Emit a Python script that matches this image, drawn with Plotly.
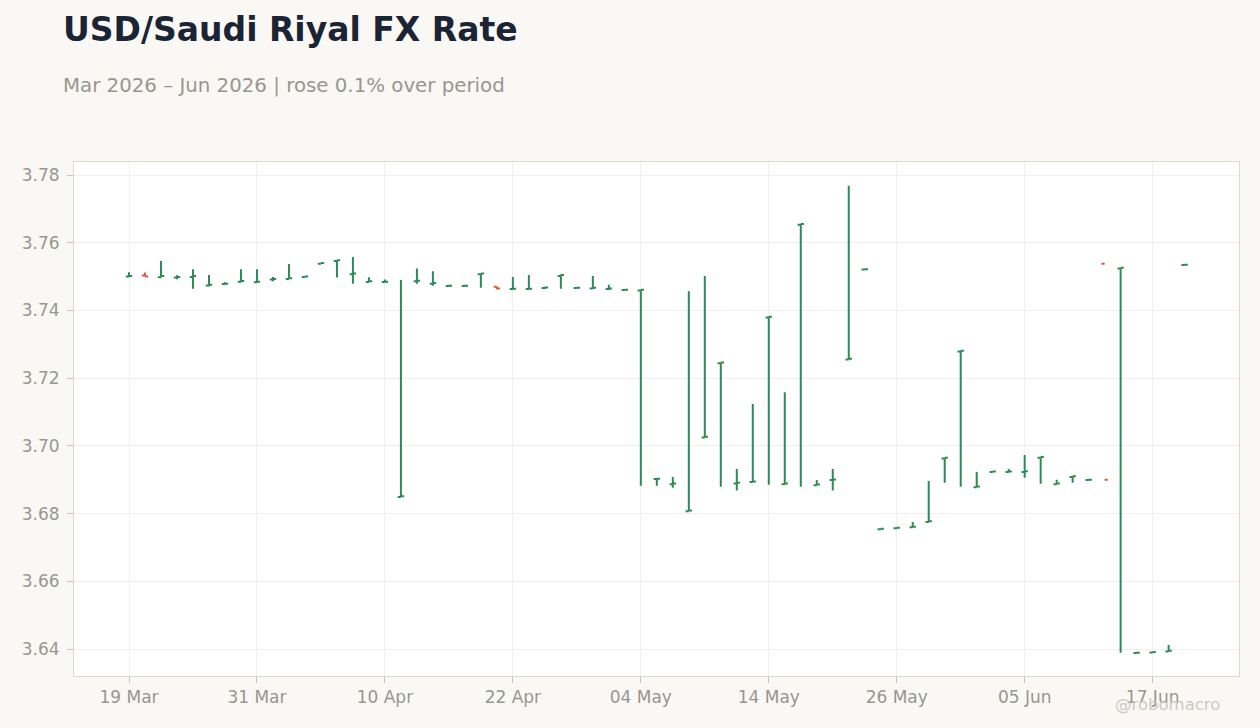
import pandas as pd
import plotly.graph_objects as go

# business days, 19 Mar 2026 -> 19 Jun 2026
dates = [d.strftime("%Y-%m-%d") for d in pd.bdate_range("2026-03-19", "2026-06-19")]

opens = [3.7500, 3.7503, 3.7498, 3.7497, 3.7499, 3.7474, 3.7478, 3.7485, 3.7483, 3.7491,
         3.7493, 3.7499, 3.7538, 3.7546, 3.7507, 3.7484, 3.7484, 3.6849, 3.7486, 3.7479,
         3.7472, 3.7472, 3.7507, 3.7470, 3.7463, 3.7463, 3.7466, 3.7502, 3.7466, 3.7465,
         3.7463, 3.7460, 3.7459, 3.6902, 3.6887, 3.6807, 3.7025, 3.7244, 3.6889, 3.6893,
         3.7379, 3.6887, 3.7653, 3.6884, 3.6899, 3.7255, 3.7521, 3.6754, 3.6757, 3.6760,
         3.6775, 3.6963, 3.7279, 3.6878, 3.6923, 3.6923, 3.6923, 3.6965, 3.6887, 3.6908,
         3.6899, 3.7538, 3.7524, 3.6388, 3.6390, 3.6393, 3.7534]
highs = [3.7513, 3.7512, 3.7546, 3.7504, 3.7522, 3.7505, 3.7483, 3.7522, 3.7522, 3.7499,
         3.7537, 3.7501, 3.7541, 3.7549, 3.7558, 3.7498, 3.7491, 3.7490, 3.7524, 3.7516,
         3.7476, 3.7476, 3.7510, 3.7471, 3.7499, 3.7505, 3.7470, 3.7506, 3.7468, 3.7502,
         3.7476, 3.7461, 3.7462, 3.6904, 3.6908, 3.7457, 3.7502, 3.7247, 3.6932, 3.7124,
         3.7382, 3.7158, 3.7656, 3.6899, 3.6932, 3.7768, 3.7523, 3.6756, 3.6759, 3.6775,
         3.6896, 3.6966, 3.7282, 3.6923, 3.6925, 3.6932, 3.6973, 3.6968, 3.6900, 3.6911,
         3.6901, 3.6900, 3.7527, 3.6390, 3.6392, 3.6412, 3.7536]
lows = [3.7500, 3.7500, 3.7497, 3.7492, 3.7464, 3.7471, 3.7477, 3.7483, 3.7482, 3.7486,
        3.7493, 3.7498, 3.7537, 3.7497, 3.7479, 3.7483, 3.7483, 3.6849, 3.7479, 3.7473,
        3.7470, 3.7471, 3.7467, 3.7462, 3.7463, 3.7463, 3.7463, 3.7464, 3.7465, 3.7463,
        3.7460, 3.7460, 3.6882, 3.6882, 3.6876, 3.6807, 3.7025, 3.6879, 3.6868, 3.6893,
        3.6885, 3.6887, 3.6879, 3.6884, 3.6868, 3.7255, 3.7521, 3.6754, 3.6757, 3.6760,
        3.6775, 3.6891, 3.6879, 3.6878, 3.6923, 3.6923, 3.6906, 3.6888, 3.6887, 3.6891,
        3.6899, 3.6900, 3.6389, 3.6388, 3.6390, 3.6393, 3.7534]
closes = [3.7502, 3.7500, 3.7502, 3.7499, 3.7502, 3.7476, 3.7479, 3.7487, 3.7485, 3.7493,
          3.7495, 3.7500, 3.7540, 3.7548, 3.7509, 3.7486, 3.7485, 3.6851, 3.7488, 3.7481,
          3.7473, 3.7473, 3.7509, 3.7465, 3.7464, 3.7464, 3.7468, 3.7505, 3.7467, 3.7467,
          3.7465, 3.7461, 3.7461, 3.6903, 3.6889, 3.6809, 3.7027, 3.7246, 3.6891, 3.6895,
          3.7381, 3.6889, 3.7655, 3.6886, 3.6901, 3.7257, 3.7522, 3.6755, 3.6758, 3.6761,
          3.6777, 3.6965, 3.7281, 3.6880, 3.6924, 3.6924, 3.6925, 3.6967, 3.6889, 3.6910,
          3.6900, 3.6900, 3.7526, 3.6389, 3.6391, 3.6395, 3.7535]

tick_dates = dates[::8]
tick_labels = ["19 Mar", "31 Mar", "10 Apr", "22 Apr", "04 May",
               "14 May", "26 May", "05 Jun", "17 Jun"]

fig = go.Figure()
fig.add_trace(go.Ohlc(
    x=dates, open=opens, high=highs, low=lows, close=closes,
    increasing=dict(line=dict(color="#2e8b57", width=2)),
    decreasing=dict(line=dict(color="#d35f3f", width=2)),
    tickwidth=0.2,
    showlegend=False,
))

fig.update_layout(
    width=1260, height=728,
    paper_bgcolor="#f9f8f5",
    plot_bgcolor="white",
    margin=dict(l=74, r=21, t=162, b=52),
    font=dict(family="DejaVu Sans", color="#999590"),
    title=dict(
        text="<b>USD/Saudi Riyal FX Rate</b>",
        font=dict(size=33, color="#1b2434"),
        xref="container", yref="container",
        x=0.05, xanchor="left", y=1 - 29 / 728, yanchor="middle",
    ),
    annotations=[
        dict(text="Mar 2026 – Jun 2026 | rose 0.1% over period",
             xref="paper", yref="paper", x=-0.0112, y=1.148,
             xanchor="left", yanchor="middle", showarrow=False,
             font=dict(size=19.8, color="#9a9590")),
        dict(text="@robomacro", xref="paper", yref="paper",
             x=0.9854, y=-0.0564, xanchor="right", yanchor="middle",
             showarrow=False, font=dict(size=16.5, color="#cdc9c3")),
    ],
    xaxis=dict(
        type="category",
        range=[-3.44, 69.4],
        tickvals=tick_dates, ticktext=tick_labels,
        rangeslider=dict(visible=False),
        showgrid=True, gridcolor="#f0efed",
        showline=True, linecolor="#ddd8d0", mirror=True,
        ticks="outside", ticklen=6, tickcolor="#c8c4be",
        tickfont=dict(size=17, color="#999590"),
    ),
    yaxis=dict(
        range=[3.63203, 3.78384],
        dtick=0.02, tickformat=".2f",
        showgrid=True, gridcolor="#f0efed", zeroline=False,
        showline=True, linecolor="#ddd8d0", mirror=True,
        ticks="outside", ticklen=6, tickcolor="#c8c4be",
        ticklabelstandoff=4,
        tickfont=dict(size=17, color="#999590"),
    ),
)

fig.write_html("out.html", config={"displayModeBar": False},
               post_script="document.body.style.margin='0';")
